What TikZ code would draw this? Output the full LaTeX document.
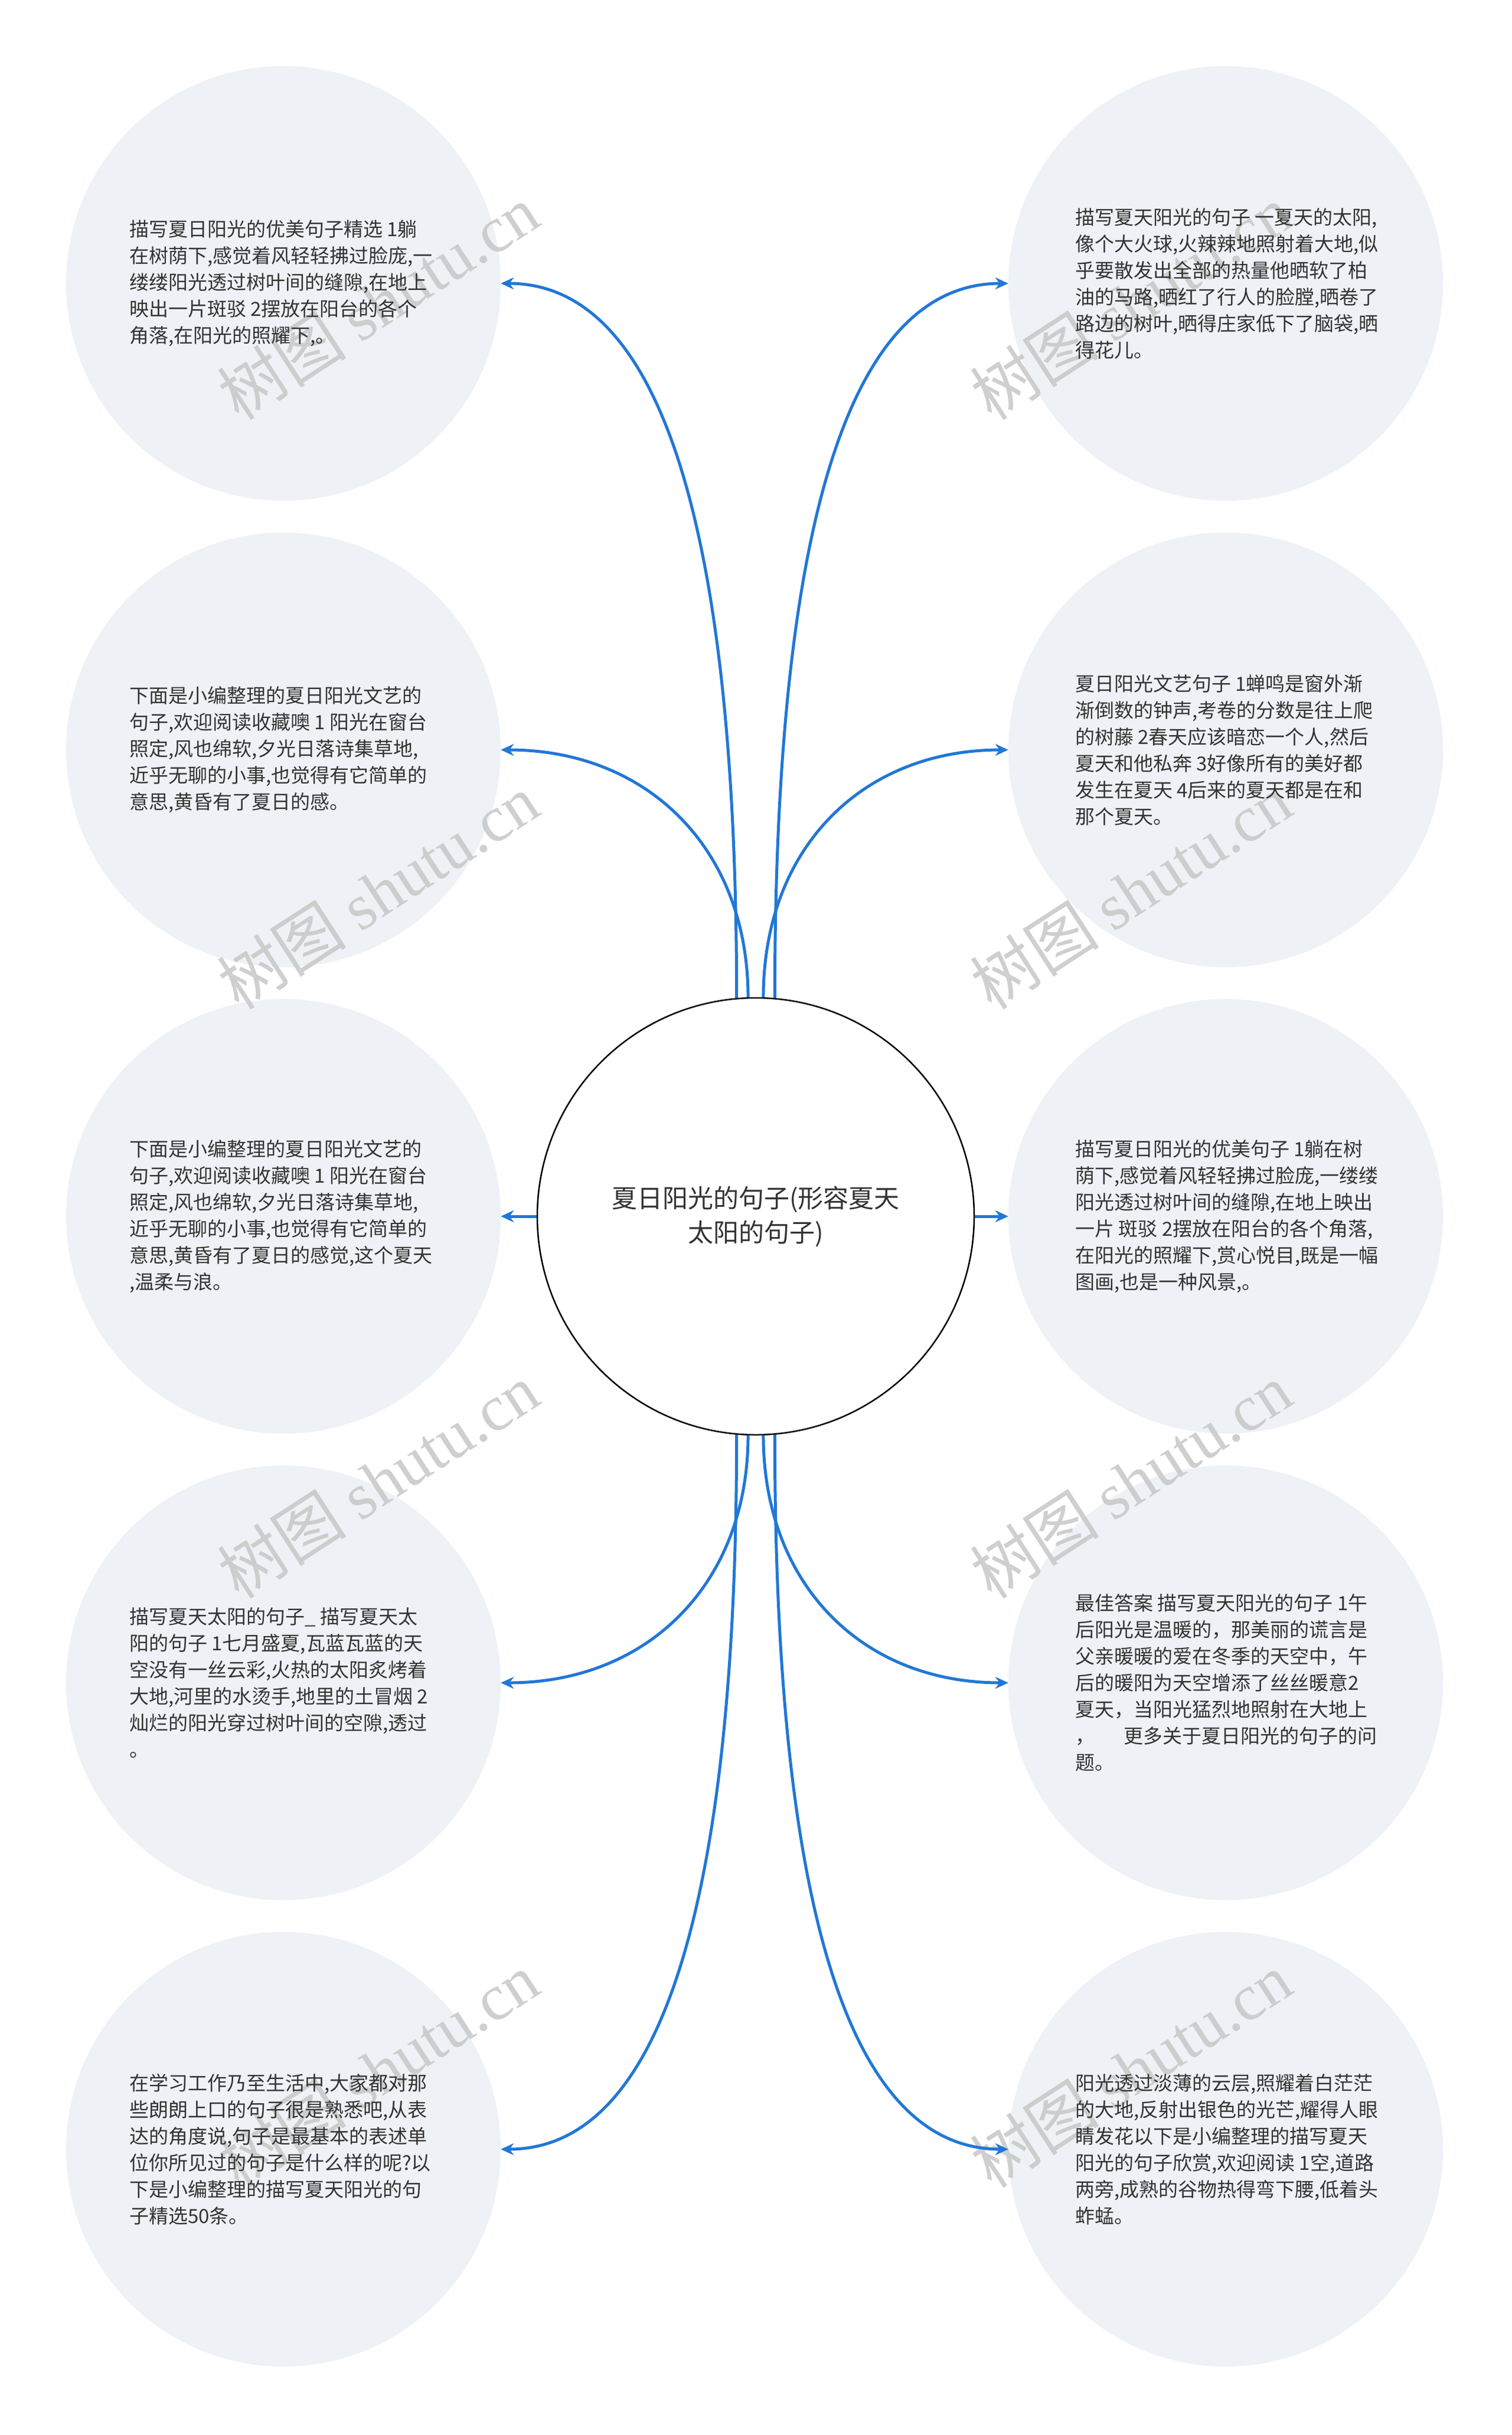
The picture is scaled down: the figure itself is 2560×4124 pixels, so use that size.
\documentclass[tikz,border=0pt]{standalone}
\usepackage{fontspec}
\setmainfont{Noto Sans CJK SC}
\newfontfamily\wmserif{Liberation Serif}
\usetikzlibrary{arrows.meta}
\definecolor{linkblue}{HTML}{2177D6}
\definecolor{bubble}{HTML}{EEF1F5}
\definecolor{txt}{HTML}{333333}
\definecolor{wm}{HTML}{C4C4C4}
\begin{document}
\begin{tikzpicture}[x=1pt,y=-1pt,
  bubblec/.style={circle, fill=bubble, minimum size=736pt, inner sep=0pt},
  ltext/.style={anchor=west, align=left, text=txt, font=\fontsize{33}{45}\selectfont, inner sep=0pt},
  centerc/.style={circle, draw=black, line width=2.5pt, fill=white, minimum size=740pt, inner sep=0pt, align=center, text=txt, font=\fontsize{43}{58}\selectfont},
  conn/.style={draw=linkblue, line width=5pt, -{Stealth[length=22pt,width=20pt]}},
  wmark/.style={text=wm, opacity=0.8, rotate=33, font=\fontsize{110}{110}\selectfont}]
\useasboundingbox (0,0) rectangle (2560,4124);
\fill[white] (0,0) rectangle (2560,4124);
% bubbles
\node[bubblec] (L1) at (480,480) {};
\node[bubblec] (L2) at (480,1270) {};
\node[bubblec] (L3) at (480,2060) {};
\node[bubblec] (L4) at (480,2850) {};
\node[bubblec] (L5) at (480,3640) {};
\node[bubblec] (R1) at (2076,480) {};
\node[bubblec] (R2) at (2076,1270) {};
\node[bubblec] (R3) at (2076,2060) {};
\node[bubblec] (R4) at (2076,2850) {};
\node[bubblec] (R5) at (2076,3640) {};
% watermarks
\node[wmark] (w1) at (640,512) {树图 {\wmserif shutu.cn}};
\node[wmark] (w2) at (1915,512) {树图 {\wmserif shutu.cn}};
\node[wmark] (w3) at (640,1510) {树图 {\wmserif shutu.cn}};
\node[wmark] (w4) at (1915,1510) {树图 {\wmserif shutu.cn}};
\node[wmark] (w5) at (640,2508) {树图 {\wmserif shutu.cn}};
\node[wmark] (w6) at (1915,2508) {树图 {\wmserif shutu.cn}};
\node[wmark] (w7) at (640,3506) {树图 {\wmserif shutu.cn}};
\node[wmark] (w8) at (1915,3506) {树图 {\wmserif shutu.cn}};
% center
\node[centerc] (C) at (1280,2060) {夏日阳光的句子(形容夏天\\太阳的句子)};
% texts
\node[ltext] (L1t) at (219,480) {描写夏日阳光的优美句子精选 1躺\\在树荫下,感觉着风轻轻拂过脸庞,一\\缕缕阳光透过树叶间的缝隙,在地上\\映出一片斑驳 2摆放在阳台的各个\\角落,在阳光的照耀下,。};
\node[ltext] (L2t) at (219,1270) {下面是小编整理的夏日阳光文艺的\\句子,欢迎阅读收藏噢 1 阳光在窗台\\照定,风也绵软,夕光日落诗集草地,\\近乎无聊的小事,也觉得有它简单的\\意思,黄昏有了夏日的感。};
\node[ltext] (L3t) at (219,2060) {下面是小编整理的夏日阳光文艺的\\句子,欢迎阅读收藏噢 1 阳光在窗台\\照定,风也绵软,夕光日落诗集草地,\\近乎无聊的小事,也觉得有它简单的\\意思,黄昏有了夏日的感觉,这个夏天\\,温柔与浪。};
\node[ltext] (L4t) at (219,2850) {描写夏天太阳的句子\_ 描写夏天太\\阳的句子 1七月盛夏,瓦蓝瓦蓝的天\\空没有一丝云彩,火热的太阳炙烤着\\大地,河里的水烫手,地里的土冒烟 2\\灿烂的阳光穿过树叶间的空隙,透过\\。};
\node[ltext] (L5t) at (219,3640) {在学习工作乃至生活中,大家都对那\\些朗朗上口的句子很是熟悉吧,从表\\达的角度说,句子是最基本的表述单\\位你所见过的句子是什么样的呢?以\\下是小编整理的描写夏天阳光的句\\子精选50条。};
\node[ltext] (R1t) at (1821,480) {描写夏天阳光的句子 一夏天的太阳,\\像个大火球,火辣辣地照射着大地,似\\乎要散发出全部的热量他晒软了柏\\油的马路,晒红了行人的脸膛,晒卷了\\路边的树叶,晒得庄家低下了脑袋,晒\\得花儿。};
\node[ltext] (R2t) at (1821,1270) {夏日阳光文艺句子 1蝉鸣是窗外渐\\渐倒数的钟声,考卷的分数是往上爬\\的树藤 2春天应该暗恋一个人,然后\\夏天和他私奔 3好像所有的美好都\\发生在夏天 4后来的夏天都是在和\\那个夏天。};
\node[ltext] (R3t) at (1821,2060) {描写夏日阳光的优美句子 1躺在树\\荫下,感觉着风轻轻拂过脸庞,一缕缕\\阳光透过树叶间的缝隙,在地上映出\\一片 斑驳 2摆放在阳台的各个角落,\\在阳光的照耀下,赏心悦目,既是一幅\\图画,也是一种风景,。};
\node[ltext] (R4t) at (1821,2850) {最佳答案 描写夏天阳光的句子 1午\\后阳光是温暖的，那美丽的谎言是\\父亲暖暖的爱在冬季的天空中，午\\后的暖阳为天空增添了丝丝暖意2\\夏天，当阳光猛烈地照射在大地上\\，\hspace{1.5em}更多关于夏日阳光的句子的问\\题。};
\node[ltext] (R5t) at (1821,3640) {阳光透过淡薄的云层,照耀着白茫茫\\的大地,反射出银色的光芒,耀得人眼\\睛发花以下是小编整理的描写夏天\\阳光的句子欣赏,欢迎阅读 1空,道路\\两旁,成熟的谷物热得弯下腰,低着头\\蚱蜢。};
% connectors
\draw[conn] (C.95) .. controls +(0,-700) and +(300,0) .. (L1.east);
\draw[conn] (C.92) .. controls +(0,-250) and +(250,0) .. (L2.east);
\draw[conn] (C.88) .. controls +(0,-250) and +(-250,0) .. (R2.west);
\draw[conn] (C.85) .. controls +(0,-700) and +(-300,0) .. (R1.west);
\draw[conn] (C.west) -- (L3.east);
\draw[conn] (C.east) -- (R3.west);
\draw[conn] (C.268) .. controls +(0,250) and +(250,0) .. (L4.east);
\draw[conn] (C.265) .. controls +(0,700) and +(300,0) .. (L5.east);
\draw[conn] (C.272) .. controls +(0,250) and +(-250,0) .. (R4.west);
\draw[conn] (C.275) .. controls +(0,700) and +(-300,0) .. (R5.west);
\end{tikzpicture}
\end{document}
